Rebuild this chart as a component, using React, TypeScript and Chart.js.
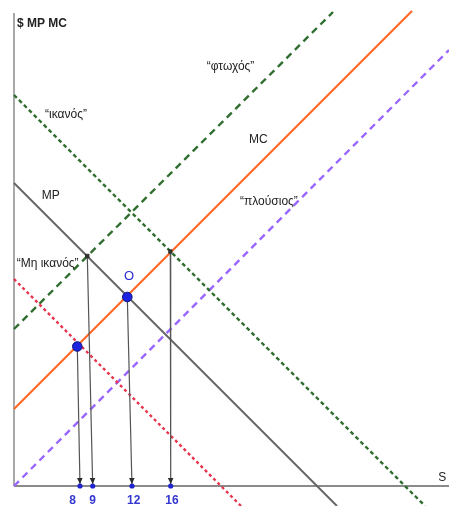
import React, { useEffect, useRef } from 'react';
import { Chart, registerables } from 'chart.js';

Chart.register(...registerables);

// ---- data (abstract schematic units) ----
const MC_LINE = [{ x: 0, y: 7.7 }, { x: 39.8, y: 47.5 }];
const MP_LINE = [{ x: 0, y: 30.3 }, { x: 32.3, y: -2.0 }];
const IKANOS_LINE = [{ x: 0, y: 39.1 }, { x: 41.1, y: -2.0 }];
const MH_IKANOS_LINE = [{ x: 0, y: 20.7 }, { x: 22.7, y: -2.0 }];
const FTOXOS_LINE = [{ x: 0, y: 15.7 }, { x: 31.9, y: 47.4 }];
const PLOUSIOS_LINE = [{ x: 0, y: 0 }, { x: 43.5, y: 43.6 }];

const BLUE_POINTS = [{ x: 6.33, y: 13.95 }, { x: 11.33, y: 18.9 }];
const BLACK_POINTS = [{ x: 7.33, y: 23.0 }, { x: 15.63, y: 23.45 }];

const ARROW_STARTS = [
  { x: 6.33, y: 13.95 },
  { x: 7.33, y: 23.0 },
  { x: 11.33, y: 18.9 },
  { x: 15.63, y: 23.45 },
];
const TICK_VALUES = [6.6, 7.87, 11.8, 15.67];
const TICK_LABELS = ['8', '9', '12', '16'];
const TICK_LABEL_X = [5.87, 7.87, 11.97, 15.8];

const X_AXIS = [{ x: 0, y: 0 }, { x: 43.5, y: 0 }];
const Y_AXIS = [{ x: 0, y: 0 }, { x: 0, y: 47.3 }];

const TEXT_LABELS = [
  { text: '$ MP MC', x: 0.3, y: 46.25, bold: true, color: '#222', align: 'left' },
  { text: '\u201Cφτωχός\u201D', x: 19.27, y: 41.9, bold: false, color: '#222', align: 'left' },
  { text: '\u201Cικανός\u201D', x: 3.1, y: 37.1, bold: false, color: '#222', align: 'left' },
  { text: 'MC', x: 23.5, y: 34.67, bold: false, color: '#222', align: 'left' },
  { text: 'MP', x: 2.77, y: 29.0, bold: false, color: '#222', align: 'left' },
  { text: '\u201Cπλούσιος\u201D', x: 22.6, y: 28.43, bold: false, color: '#222', align: 'left' },
  { text: '\u201CΜη ικανός\u201D', x: 0.27, y: 22.27, bold: false, color: '#222', align: 'left' },
  { text: 'O', x: 11.5, y: 21.0, bold: false, color: '#2a2ad0', align: 'center', size: 13 },
  { text: 'S', x: 42.43, y: 0.87, bold: false, color: '#222', align: 'left' },
];

const FONT_FAMILY = '"Liberation Sans", Arial, sans-serif';

const overlayPlugin = {
  id: 'overlayText',
  afterDatasetsDraw(chart: any) {
    const { ctx } = chart;
    const xs = chart.scales.x;
    const ys = chart.scales.y;
    // arrow heads
    chart.data.datasets.forEach((ds: any, i: number) => {
      if (!ds.isArrow) return;
      const meta = chart.getDatasetMeta(i);
      const pts = meta.data;
      if (pts.length < 2) return;
      const a = pts[pts.length - 2];
      const b = pts[pts.length - 1];
      const ang = Math.atan2(b.y - a.y, b.x - a.x);
      ctx.save();
      ctx.translate(b.x, b.y);
      ctx.rotate(ang);
      ctx.translate(-2, 0);
      ctx.beginPath();
      ctx.moveTo(0, 0);
      ctx.lineTo(-6, -2.8);
      ctx.lineTo(-6, 2.8);
      ctx.closePath();
      ctx.fillStyle = '#2b2b2b';
      ctx.fill();
      ctx.restore();
    });
    // text labels
    ctx.save();
    ctx.textBaseline = 'middle';
    TEXT_LABELS.forEach((l) => {
      ctx.font = `${l.bold ? 'bold ' : ''}${l.size || 12}px ${FONT_FAMILY}`;
      ctx.fillStyle = l.color;
      ctx.textAlign = l.align as CanvasTextAlign;
      ctx.fillText(l.text, xs.getPixelForValue(l.x), ys.getPixelForValue(l.y));
    });
    ctx.font = `bold 12px ${FONT_FAMILY}`;
    ctx.fillStyle = '#3438d0';
    ctx.textAlign = 'center';
    TICK_LABELS.forEach((t, i) => {
      ctx.fillText(t, xs.getPixelForValue(TICK_LABEL_X[i]), ys.getPixelForValue(-1.45));
    });
    ctx.restore();
  },
};

function lineDs(data: any[], color: string, width: number, dash: number[] = []) {
  return {
    data,
    showLine: true,
    borderColor: color,
    backgroundColor: color,
    borderWidth: width,
    borderDash: dash,
    pointRadius: 0,
    pointHoverRadius: 0,
    fill: false,
    tension: 0,
  };
}

export default function App() {
  const ref = useRef<HTMLCanvasElement | null>(null);

  useEffect(() => {
    if (!ref.current) return;
    const arrows = ARROW_STARTS.map((s, i) => ({
      ...lineDs([s, { x: TICK_VALUES[i], y: 0 }], '#555555', 1.2),
      isArrow: true,
    }));
    const feet = TICK_VALUES.map((v) => ({ x: v, y: 0 }));
    const chart = new Chart(ref.current, {
      type: 'scatter',
      data: {
        datasets: [
          {
            data: BLUE_POINTS,
            pointRadius: 4.8,
            pointBackgroundColor: '#1f24e0',
            pointBorderColor: '#10127a',
            pointBorderWidth: 1,
            showLine: false,
          },
          {
            data: BLACK_POINTS,
            pointRadius: 2.6,
            pointStyle: 'rect',
            pointBackgroundColor: '#333333',
            pointBorderColor: '#222222',
            pointBorderWidth: 0.5,
            showLine: false,
          },
          {
            data: feet,
            pointRadius: 2.6,
            pointBackgroundColor: '#1f24d0',
            pointBorderColor: '#1f24d0',
            pointBorderWidth: 0,
            showLine: false,
          },
          ...arrows,
          lineDs(MC_LINE, '#ff6626', 2.2),
          lineDs(MP_LINE, '#666666', 2),
          lineDs(IKANOS_LINE, '#2f6e2f', 2.4, [4, 3]),
          lineDs(MH_IKANOS_LINE, '#e8344c', 2.4, [3, 3]),
          lineDs(FTOXOS_LINE, '#2f6e2f', 2.4, [7, 5]),
          lineDs(PLOUSIOS_LINE, '#9a66ff', 2.4, [7, 5]),
          lineDs(X_AXIS, '#8a8a8a', 2),
          lineDs(Y_AXIS, '#7a7a7a', 1.3),
        ] as any,
      },
      options: {
        animation: false,
        responsive: false,
        maintainAspectRatio: false,
        layout: { padding: 0, autoPadding: false },
        events: [],
        plugins: {
          legend: { display: false },
          tooltip: { enabled: false },
        },
        scales: {
          x: { type: 'linear', min: -1.4, max: 43.5, display: false },
          y: { type: 'linear', min: -2.0, max: 48.6, display: false },
        },
      },
      plugins: [overlayPlugin],
    });
    return () => chart.destroy();
  }, []);

  return (
    <div style={{ position: 'absolute', left: 0, top: 0, width: 449, height: 506, background: '#fff' }}>
      <canvas ref={ref} width={449} height={506} style={{ display: 'block' }} />
    </div>
  );
}
